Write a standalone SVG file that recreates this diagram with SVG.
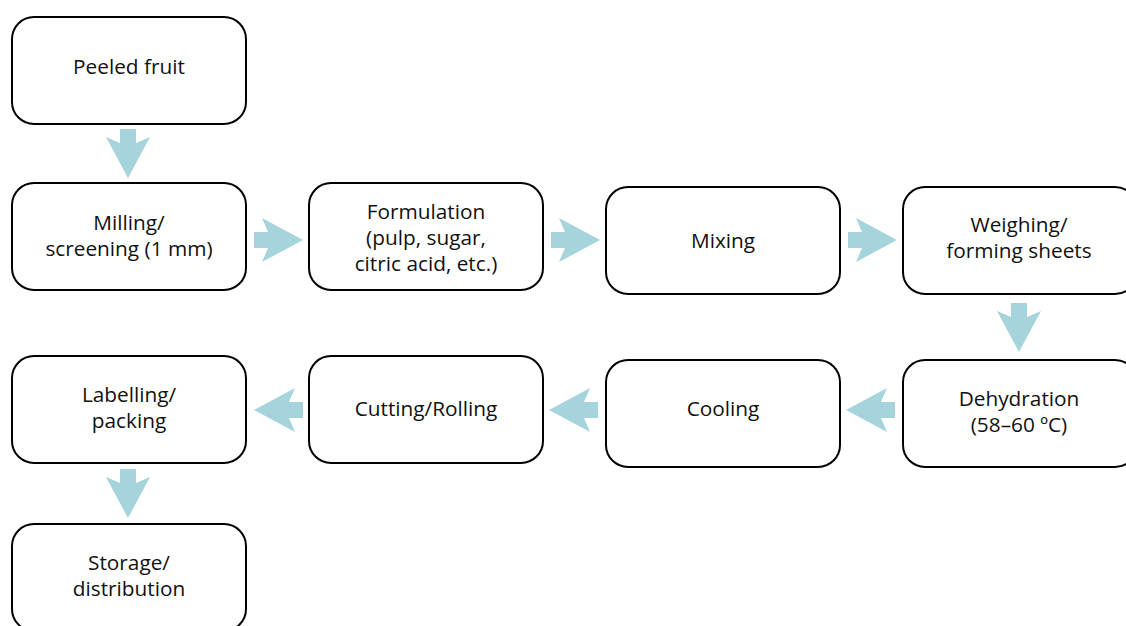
<svg xmlns="http://www.w3.org/2000/svg" xmlns:xlink="http://www.w3.org/1999/xlink" width="1126" height="626" viewBox="0 0 1126 626">
  <style>
    .box { fill: #ffffff; stroke: #000000; stroke-width: 2; }
    .lbl { font-family: "Open Sans", "Noto Sans", "Liberation Sans", sans-serif; font-size: 20.8px; fill: #111111; text-anchor: middle; }
    .arr { fill: #a6d4dc; }
  </style>
  <defs>
    <!-- block arrow pointing right; tail at x=0, centred on y=0 -->
    <path id="blockArrow" class="arr" d="M0,-8 L14,-8 L8,-22 L49,0 L8,22 L14,8 L0,8 Z"/>
  </defs>
  <rect width="1126" height="626" fill="#ffffff"/>

  <g id="connectors">
    <use xlink:href="#blockArrow" transform="translate(128,129) rotate(90)"/>
    <use xlink:href="#blockArrow" transform="translate(254,240)"/>
    <use xlink:href="#blockArrow" transform="translate(551,240)"/>
    <use xlink:href="#blockArrow" transform="translate(848,240)"/>
    <use xlink:href="#blockArrow" transform="translate(1019,303) rotate(90)"/>
    <use xlink:href="#blockArrow" transform="translate(895,410) rotate(180)"/>
    <use xlink:href="#blockArrow" transform="translate(598,410) rotate(180)"/>
    <use xlink:href="#blockArrow" transform="translate(303,410) rotate(180)"/>
    <use xlink:href="#blockArrow" transform="translate(128,469) rotate(90)"/>
  </g>

  <g id="peeled-fruit">
    <rect class="box" x="12" y="17" width="234" height="107" rx="22"/>
    <text class="lbl" x="129" y="74">Peeled fruit</text>
  </g>
  <g id="milling">
    <rect class="box" x="12" y="183" width="234" height="107" rx="22"/>
    <text class="lbl" x="129" y="230">Milling/</text>
    <text class="lbl" x="129" y="256">screening (1 mm)</text>
  </g>
  <g id="formulation">
    <rect class="box" x="309" y="183" width="234" height="107" rx="22"/>
    <text class="lbl" x="426" y="219">Formulation</text>
    <text class="lbl" x="426" y="245">(pulp, sugar,</text>
    <text class="lbl" x="426" y="271">citric acid, etc.)</text>
  </g>
  <g id="mixing">
    <rect class="box" x="606" y="187" width="234" height="107" rx="22"/>
    <text class="lbl" x="723" y="248">Mixing</text>
  </g>
  <g id="weighing">
    <rect class="box" x="903" y="187" width="234" height="107" rx="22"/>
    <text class="lbl" x="1019" y="232">Weighing/</text>
    <text class="lbl" x="1019" y="258">forming sheets</text>
  </g>
  <g id="dehydration">
    <rect class="box" x="903" y="360" width="234" height="107" rx="22"/>
    <text class="lbl" x="1019" y="406">Dehydration</text>
    <text class="lbl" x="1019" y="432">(58–60 ºC)</text>
  </g>
  <g id="cooling">
    <rect class="box" x="606" y="360" width="234" height="107" rx="22"/>
    <text class="lbl" x="723" y="416">Cooling</text>
  </g>
  <g id="cutting">
    <rect class="box" x="309" y="356" width="234" height="107" rx="22"/>
    <text class="lbl" x="426" y="416">Cutting/Rolling</text>
  </g>
  <g id="labelling">
    <rect class="box" x="12" y="356" width="234" height="107" rx="22"/>
    <text class="lbl" x="129" y="402">Labelling/</text>
    <text class="lbl" x="129" y="428">packing</text>
  </g>
  <g id="storage">
    <rect class="box" x="12" y="524" width="234" height="107" rx="22"/>
    <text class="lbl" x="129" y="570">Storage/</text>
    <text class="lbl" x="129" y="596">distribution</text>
  </g>
</svg>
